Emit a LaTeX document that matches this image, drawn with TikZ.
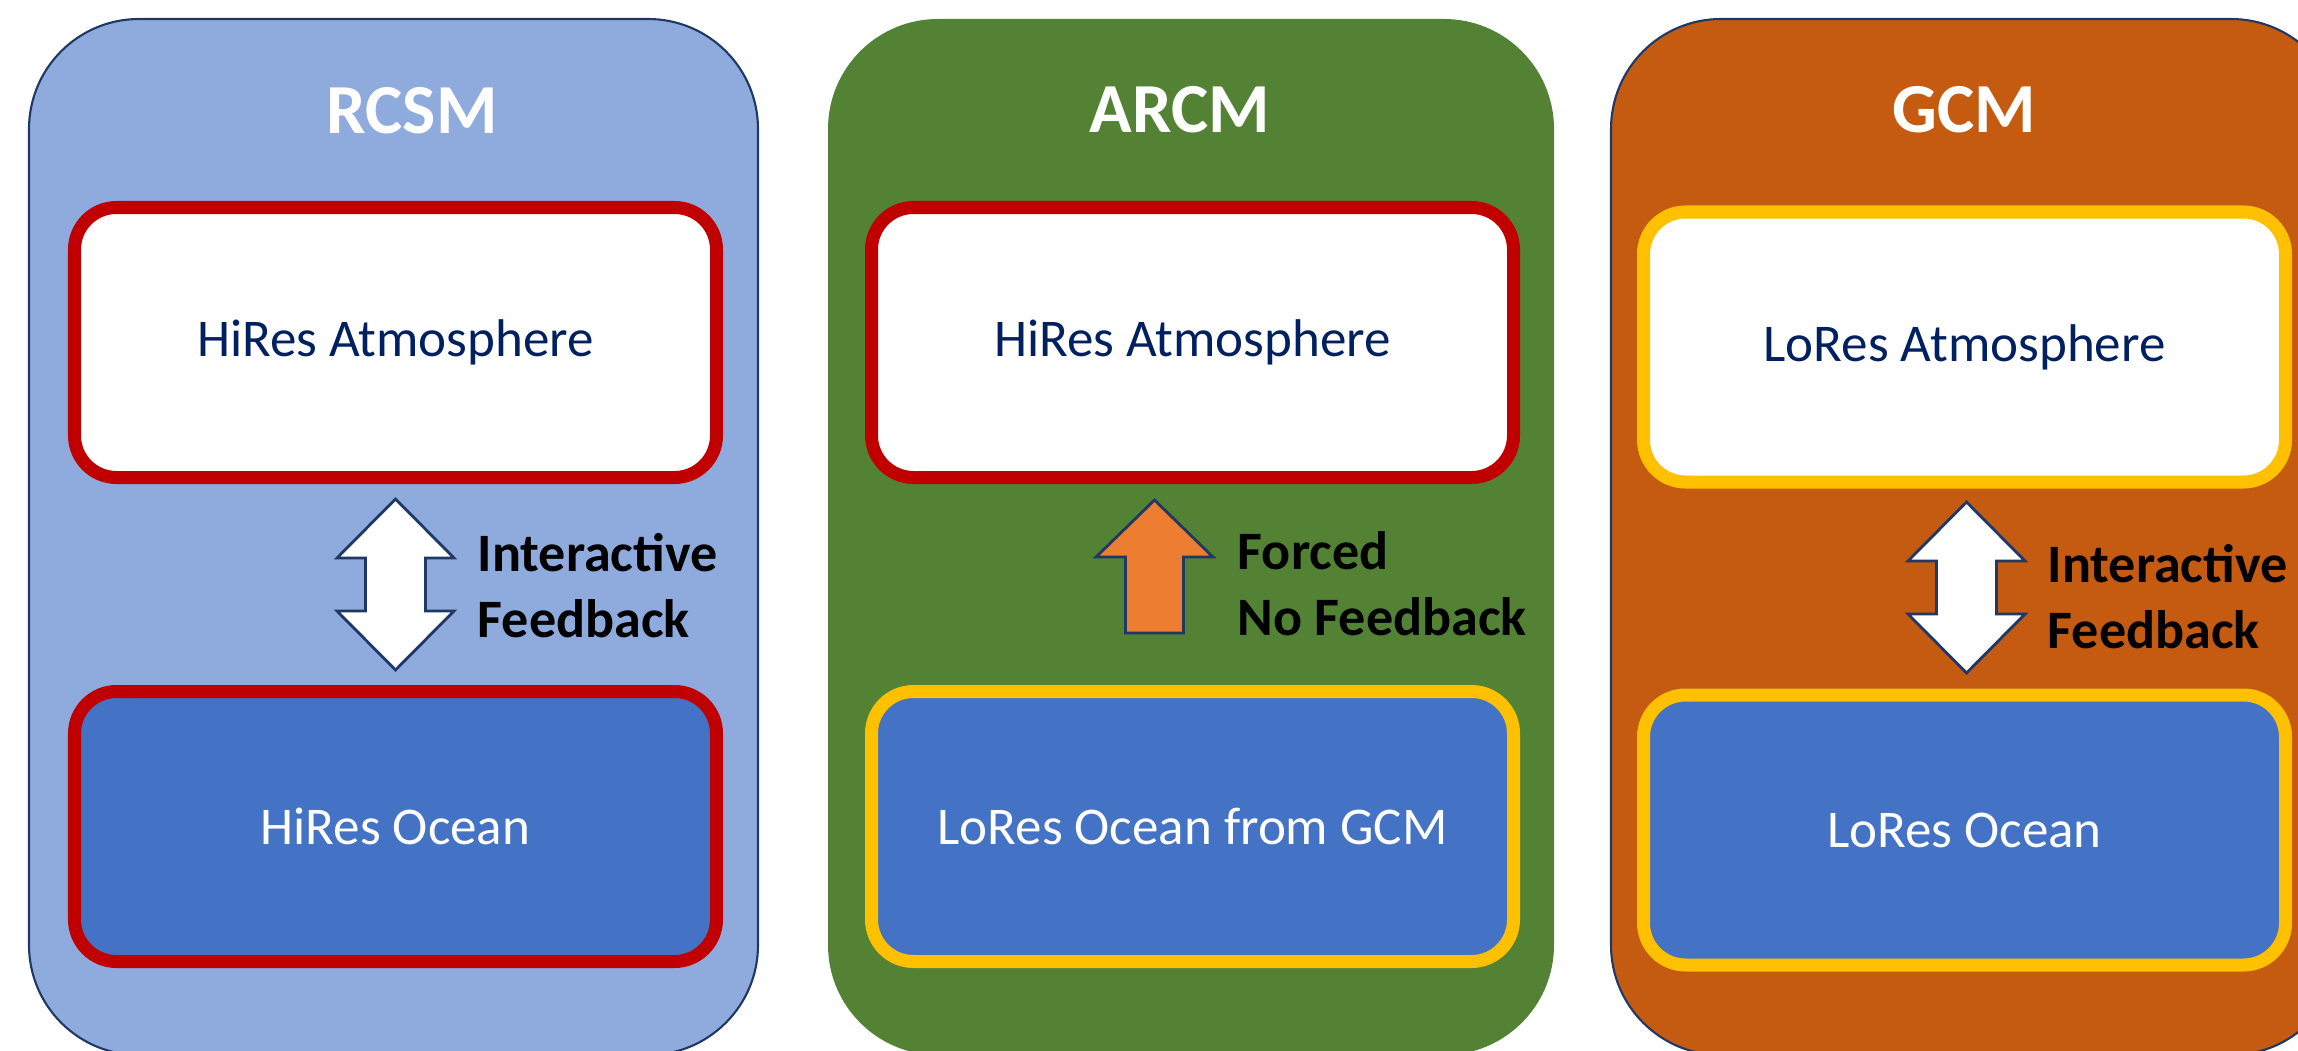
\documentclass[tikz,border=0pt]{standalone}
\usepackage{fontspec}
\setmainfont{Carlito}
\usetikzlibrary{calc}
\definecolor{cpblue}{HTML}{8FAADC}
\definecolor{cpgreen}{HTML}{548235}
\definecolor{cporange}{HTML}{C55A11}
\definecolor{cred}{HTML}{C00000}
\definecolor{cyellow}{HTML}{FFC000}
\definecolor{cocean}{HTML}{4472C4}
\definecolor{cnavy}{HTML}{203864}
\definecolor{ctext}{HTML}{002060}
\definecolor{cforce}{HTML}{ED7D31}
\tikzset{
  every picture/.style={font=\fontsize{15.1}{18.5}\selectfont},
  panel/.style={fill=#1, rounded corners=1.1cm, minimum width=7.29cm, minimum height=10.36cm, inner sep=0pt},
  comp/.style={draw=#1, line width=3.7pt, rounded corners=0.42cm, minimum width=6.42cm, minimum height=2.70cm, align=center},
  atm/.style={comp=#1, fill=white, text=ctext},
  ocean/.style={comp=#1, fill=cocean, text=white},
  title/.style={font=\bfseries\fontsize{20}{24}\selectfont, text=white, anchor=base},
  note/.style={font=\bfseries\fontsize{15.4}{18.8}\selectfont, align=left, anchor=west, inner sep=0pt},
  blockarrow/.style={draw=cnavy, line width=0.8pt},
  dblarrow/.pic={
    \draw[blockarrow, fill=white] (0,0.855) -- (0.585,0.265) -- (0.30,0.265) -- (0.30,-0.265) -- (0.585,-0.265)
      -- (0,-0.855) -- (-0.585,-0.265) -- (-0.30,-0.265) -- (-0.30,0.265) -- (-0.585,0.265) -- cycle;
  },
  uparrow/.pic={
    \draw[blockarrow, fill=cforce] (0,0.665) -- (0.585,0.095) -- (0.29,0.095) -- (0.29,-0.665)
      -- (-0.29,-0.665) -- (-0.29,0.095) -- (-0.585,0.095) -- cycle;
  },
}

\begin{document}
\begin{tikzpicture}
  \useasboundingbox (0,0) rectangle (22.98,-10.51);
  \clip (0,0) rectangle (22.98,-10.51);
  \fill[white] (0,0) rectangle (22.98,-10.51);
  % RCSM
  \node[panel=cpblue, draw=cnavy, line width=0.6pt] (p1) at (3.935,-5.37) {};
  \node[title] (t1) at (4.12,-1.34) {RCSM};
  \node[atm=cred] (a1) at (3.955,-3.425) {HiRes Atmosphere};
  \node[ocean=cred] (o1) at (3.955,-8.265) {HiRes Ocean};
  \pic at (3.955,-5.845) {dblarrow};
  \node[note] (n1) at (4.77,-5.86) {Interactive\\Feedback};
  % ARCM
  \node[panel=cpgreen, minimum width=7.26cm] (p2) at (11.91,-5.37) {};
  \node[title] (t2) at (11.80,-1.33) {ARCM};
  \node[atm=cred] (a2) at (11.925,-3.425) {HiRes Atmosphere};
  \node[ocean=cyellow] (o2) at (11.925,-8.265) {LoRes Ocean from GCM};
  \pic at (11.545,-5.665) {uparrow};
  \node[note] (n2) at (12.37,-5.84) {Forced\\No Feedback};
  % GCM
  \node[panel=cporange, draw=cnavy, line width=0.6pt, minimum width=7.30cm] (p3) at (19.76,-5.37) {};
  \node[title] (t3) at (19.64,-1.33) {GCM};
  \node[atm=cyellow] (a3) at (19.645,-3.47) {LoRes Atmosphere};
  \node[ocean=cyellow] (o3) at (19.645,-8.30) {LoRes Ocean};
  \pic at (19.665,-5.875) {dblarrow};
  \node[note] (n3) at (20.47,-5.97) {Interactive\\Feedback};
\end{tikzpicture}
\end{document}
